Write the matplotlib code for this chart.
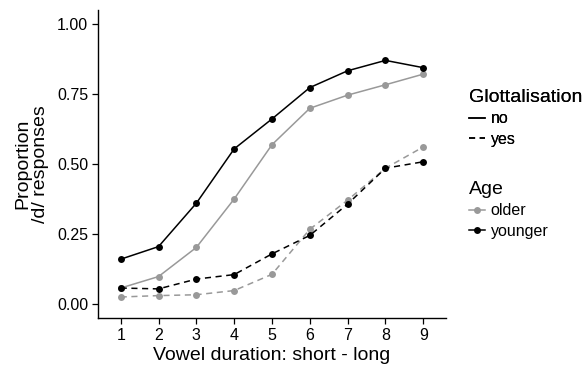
import matplotlib
matplotlib.use("Agg")
import matplotlib.pyplot as plt
from matplotlib.lines import Line2D

plt.rcParams["font.family"] = ["Liberation Sans", "DejaVu Sans"]

GREY = "#999999"
BLACK = "#000000"

steps = [1, 2, 3, 4, 5, 6, 7, 8, 9]
older_no = [0.057, 0.098, 0.202, 0.375, 0.569, 0.699, 0.746, 0.783, 0.821]
younger_no = [0.160, 0.205, 0.360, 0.554, 0.661, 0.773, 0.833, 0.870, 0.844]
older_yes = [0.025, 0.030, 0.033, 0.048, 0.106, 0.267, 0.371, 0.485, 0.561]
younger_yes = [0.057, 0.054, 0.089, 0.105, 0.179, 0.245, 0.357, 0.485, 0.508]
y_ticks = [0.0, 0.25, 0.5, 0.75, 1.0]
y_labels = ["0.00", "0.25", "0.50", "0.75", "1.00"]

fig = plt.figure(figsize=(5.82, 3.67), dpi=100)
ax = fig.add_axes([98 / 582, 1 - 318 / 367, (446 - 98) / 582, (318 - 10) / 367])

series = [
    (older_no, GREY, "-"),
    (younger_no, BLACK, "-"),
    (older_yes, GREY, (0, (4, 3))),
    (younger_yes, BLACK, (0, (4, 3))),
]
for vals, col, ls in series:
    ax.plot(steps, vals, color=col, linestyle=ls, linewidth=1.1,
            marker="o", markersize=5, markeredgewidth=0)

ax.set_xlim(0.4, 9.6)
ax.set_ylim(-0.05, 1.05)
ax.set_xticks(steps)
ax.set_yticks(y_ticks)
ax.set_yticklabels(y_labels)
ax.tick_params(labelsize=11.5, length=4, width=0.9, color="black", labelcolor="black", pad=3)
for s in ["top", "right"]:
    ax.spines[s].set_visible(False)
for s in ["left", "bottom"]:
    ax.spines[s].set_linewidth(1.0)

ax.set_xlabel("Vowel duration: short - long", fontsize=14, labelpad=3)
ax.set_ylabel("Proportion\n/d/ responses", fontsize=14, labelpad=6, linespacing=1.05)

glot_handles = [
    Line2D([], [], color=BLACK, linestyle="-", linewidth=1.1),
    Line2D([], [], color=BLACK, linestyle=(0, (4, 3)), linewidth=1.1),
]
age_handles = [
    Line2D([], [], color=GREY, linewidth=1.1, marker="o", markersize=5, markeredgewidth=0),
    Line2D([], [], color=BLACK, linewidth=1.1, marker="o", markersize=5, markeredgewidth=0),
]

leg_kw = dict(frameon=False, fontsize=11.5, title_fontsize=14, handlelength=1.0,
              handletextpad=0.35, labelspacing=0.33, borderpad=0, borderaxespad=0,
              loc="upper left", alignment="left")
leg1 = fig.legend(glot_handles, ["no", "yes"], title="Glottalisation",
                  bbox_to_anchor=(469 / 582, 1 - 89 / 367), **leg_kw)
leg2 = fig.legend(age_handles, ["older", "younger"], title="Age",
                  bbox_to_anchor=(469 / 582, 1 - 181 / 367), **leg_kw)
fig.add_artist(leg1)

fig.savefig("out.png", dpi=100)
